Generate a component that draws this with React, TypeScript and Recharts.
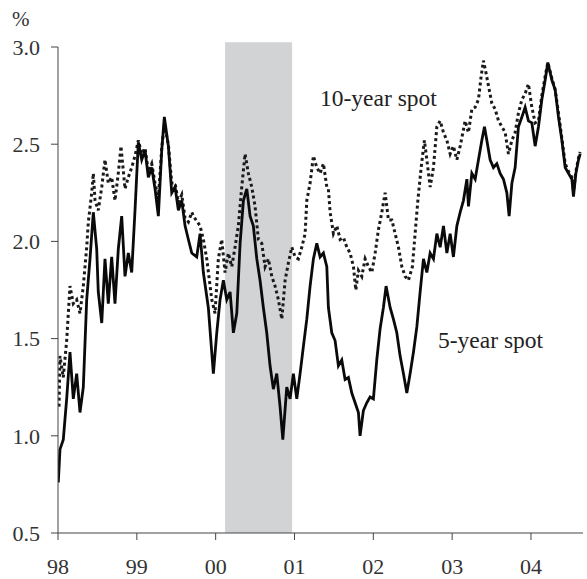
import React from "react";
import { LineChart, Line, XAxis, YAxis, ReferenceArea } from "recharts";

// time in years since Jan 1998
const yearLabels = ["98", "99", "00", "01", "02", "03", "04"];
const yTicks = [0.5, 1.0, 1.5, 2.0, 2.5, 3.0];

const fiveYearT = [
  0.004, 0.025, 0.067, 0.11, 0.152, 0.194, 0.237, 0.279, 0.321, 0.364, 0.406, 0.448, 0.491, 0.511,
  0.555, 0.596, 0.638, 0.681, 0.723, 0.765, 0.808, 0.85, 0.892, 0.935, 0.977, 1.019, 1.062, 1.104,
  1.146, 1.189, 1.231, 1.273, 1.316, 1.349, 1.4, 1.443, 1.485, 1.527, 1.57, 1.612, 1.654, 1.697,
  1.76, 1.802, 1.844, 1.907, 1.971, 2.014, 2.056, 2.098, 2.141, 2.183, 2.225, 2.268, 2.31, 2.352,
  2.395, 2.437, 2.478, 2.522, 2.563, 2.605, 2.648, 2.69, 2.732, 2.775, 2.817, 2.852, 2.902, 2.944,
  2.986, 3.029, 3.071, 3.113, 3.156, 3.198, 3.24, 3.283, 3.325, 3.367, 3.41, 3.43, 3.473, 3.515,
  3.557, 3.6, 3.642, 3.684, 3.727, 3.769, 3.811, 3.832, 3.874, 3.917, 3.959, 4.001, 4.044, 4.086,
  4.128, 4.162, 4.213, 4.255, 4.298, 4.34, 4.382, 4.425, 4.467, 4.509, 4.552, 4.594, 4.636, 4.679,
  4.721, 4.763, 4.806, 4.848, 4.89, 4.933, 4.975, 5.016, 5.06, 5.102, 5.143, 5.187, 5.207, 5.25,
  5.292, 5.334, 5.377, 5.41, 5.44, 5.482, 5.524, 5.567, 5.609, 5.651, 5.694, 5.723, 5.758, 5.799,
  5.841, 5.885, 5.926, 5.968, 6.011, 6.053, 6.095, 6.138, 6.18, 6.214, 6.265, 6.307, 6.349, 6.392,
  6.434, 6.476, 6.519, 6.539, 6.57, 6.603, 6.624,
];
const fiveYearSpot = [
  0.76, 0.93, 0.98, 1.19, 1.43, 1.19, 1.32, 1.12, 1.25, 1.7, 1.91, 2.15, 1.96, 1.74,
  1.58, 1.91, 1.68, 1.92, 1.68, 1.96, 2.13, 1.82, 1.94, 1.84, 2.16, 2.51, 2.42, 2.47,
  2.33, 2.38, 2.27, 2.13, 2.47, 2.64, 2.49, 2.25, 2.28, 2.16, 2.21, 2.08, 2.01, 1.94,
  1.92, 2.04, 1.84, 1.66, 1.32, 1.53, 1.7, 1.8, 1.7, 1.74, 1.53, 1.63, 1.99, 2.21,
  2.27, 2.13, 2.08, 1.91, 1.8, 1.66, 1.53, 1.36, 1.24, 1.32, 1.15, 0.98, 1.25, 1.19,
  1.32, 1.19, 1.32, 1.46, 1.6, 1.77, 1.91, 1.99, 1.92, 1.94, 1.87, 1.66, 1.53, 1.49,
  1.36, 1.39, 1.29, 1.3, 1.22, 1.17, 1.12, 1.0, 1.13, 1.17, 1.2, 1.19, 1.39, 1.55,
  1.66, 1.77, 1.66, 1.6, 1.53, 1.41, 1.32, 1.22, 1.32, 1.43, 1.56, 1.74, 1.91, 1.84,
  1.94, 1.91, 2.04, 1.97, 2.08, 1.94, 2.04, 1.92, 2.08, 2.15, 2.21, 2.32, 2.18, 2.35,
  2.32, 2.42, 2.52, 2.59, 2.52, 2.42, 2.38, 2.4, 2.35, 2.32, 2.25, 2.13, 2.3, 2.38,
  2.59, 2.64, 2.69, 2.62, 2.61, 2.49, 2.59, 2.73, 2.83, 2.92, 2.83, 2.78, 2.64, 2.52,
  2.38, 2.35, 2.32, 2.23, 2.35, 2.42, 2.45,
];

const tenYearT = [
  0.013, 0.025, 0.067, 0.11, 0.152, 0.194, 0.237, 0.279, 0.321, 0.364, 0.385, 0.428, 0.448, 0.47,
  0.511, 0.555, 0.596, 0.638, 0.681, 0.723, 0.765, 0.799, 0.85, 0.892, 0.935, 0.977, 1.019, 1.062,
  1.104, 1.146, 1.189, 1.231, 1.273, 1.316, 1.349, 1.4, 1.443, 1.485, 1.527, 1.57, 1.612, 1.654,
  1.697, 1.717, 1.802, 1.844, 1.887, 1.951, 1.992, 2.034, 2.077, 2.119, 2.161, 2.204, 2.246, 2.288,
  2.331, 2.373, 2.415, 2.458, 2.5, 2.542, 2.585, 2.627, 2.669, 2.712, 2.754, 2.796, 2.839, 2.881,
  2.923, 2.966, 3.008, 3.049, 3.093, 3.135, 3.156, 3.198, 3.24, 3.283, 3.325, 3.367, 3.41, 3.43,
  3.452, 3.494, 3.537, 3.579, 3.621, 3.664, 3.706, 3.748, 3.778, 3.811, 3.854, 3.896, 3.938, 3.981,
  4.023, 4.065, 4.108, 4.15, 4.192, 4.235, 4.277, 4.319, 4.362, 4.404, 4.446, 4.496, 4.53, 4.565,
  4.607, 4.648, 4.679, 4.721, 4.763, 4.806, 4.848, 4.89, 4.933, 4.975, 5.016, 5.06, 5.102, 5.165,
  5.207, 5.25, 5.292, 5.334, 5.368, 5.397, 5.428, 5.461, 5.504, 5.546, 5.588, 5.631, 5.673, 5.714,
  5.758, 5.799, 5.841, 5.885, 5.926, 5.968, 6.011, 6.053, 6.095, 6.138, 6.18, 6.214, 6.265, 6.307,
  6.349, 6.392, 6.434, 6.476, 6.519, 6.539, 6.57, 6.603, 6.624,
];
const tenYearSpot = [
  1.15, 1.41, 1.3, 1.49, 1.77, 1.68, 1.7, 1.63, 1.77, 1.97, 2.1, 2.25, 2.35, 2.21,
  2.16, 2.28, 2.42, 2.3, 2.33, 2.21, 2.35, 2.49, 2.27, 2.33, 2.38, 2.44, 2.52, 2.45,
  2.48, 2.36, 2.4, 2.3, 2.22, 2.48, 2.6, 2.5, 2.3, 2.3, 2.2, 2.24, 2.12, 2.1,
  2.15, 2.13, 2.08, 2.01, 1.91, 1.7, 1.63, 1.91, 2.01, 1.84, 1.94, 1.87, 1.97, 2.08,
  2.28, 2.45, 2.35, 2.28, 2.18, 2.01, 1.99, 1.87, 1.91, 1.82, 1.77, 1.7, 1.6, 1.8,
  1.89, 1.97, 1.92, 1.91, 1.97, 2.04, 2.21, 2.3, 2.44, 2.38, 2.35, 2.4, 2.28, 2.27,
  2.15, 2.04, 2.08, 2.01, 2.02, 1.97, 1.94, 1.87, 1.75, 1.85, 1.82, 1.91, 1.87, 1.84,
  1.94, 2.06, 2.15, 2.25, 2.11, 2.11, 2.04, 1.97, 1.87, 1.82, 1.8, 1.87, 2.04, 2.21,
  2.38, 2.52, 2.42, 2.28, 2.38, 2.59, 2.62, 2.56, 2.52, 2.45, 2.49, 2.42, 2.49, 2.62,
  2.56, 2.68, 2.69, 2.73, 2.85, 2.93, 2.87, 2.8, 2.71, 2.68, 2.62, 2.59, 2.56, 2.45,
  2.52, 2.56, 2.66, 2.73, 2.76, 2.81, 2.69, 2.61, 2.62, 2.75, 2.85, 2.92, 2.84, 2.78,
  2.66, 2.53, 2.4, 2.36, 2.33, 2.26, 2.36, 2.43, 2.46,
];

// shaded period (years since 1998)
const shadeStart = 2.12;
const shadeEnd = 2.97;

const fiveData = fiveYearT.map((t, i) => ({ t, v: fiveYearSpot[i] }));
const tenData = tenYearT.map((t, i) => ({ t, v: tenYearSpot[i] }));

const FONT = '"Liberation Serif", "Times New Roman", serif';
const tickStyle = { fontFamily: FONT, fontSize: 22, fill: "#333" };

export default function App() {
  return (
    <div style={{ position: "absolute", left: 0, top: 0, width: 587, height: 579, background: "#fff" }}>
      <LineChart
        width={587}
        height={579}
        margin={{ top: 47, right: 4, bottom: 0, left: 0 }}
      >
        <ReferenceArea
          x1={shadeStart}
          x2={shadeEnd}
          y1={0.5}
          y2={3.025}
          ifOverflow="visible"
          fill="#d1d3d4"
          fillOpacity={1}
          stroke="none"
        />
        <XAxis
          type="number"
          dataKey="t"
          domain={[0, 6.66]}
          ticks={[0, 1, 2, 3, 4, 5, 6]}
          tickFormatter={(v: number) => yearLabels[v]}
          allowDataOverflow
          height={46}
          tickSize={7}
          tickMargin={18}
          stroke="#444"
          tick={tickStyle}
        />
        <YAxis
          type="number"
          domain={[0.5, 3]}
          ticks={yTicks}
          tickFormatter={(v: number) => v.toFixed(1)}
          allowDataOverflow
          width={58}
          tickSize={7}
          tickMargin={11}
          stroke="#444"
          tick={tickStyle}
        />
        <Line
          data={tenData}
          dataKey="v"
          type="linear"
          stroke="#1a1a1a"
          strokeWidth={3}
          strokeDasharray="3 3"
          dot={false}
          isAnimationActive={false}
        />
        <Line
          data={fiveData}
          dataKey="v"
          type="linear"
          stroke="#0a0a0a"
          strokeWidth={2.8}
          dot={false}
          isAnimationActive={false}
        />
      </LineChart>
      <svg
        width={587}
        height={579}
        style={{ position: "absolute", left: 0, top: 0, pointerEvents: "none" }}
      >
        <text x={12} y={26} fontFamily={FONT} fontSize={21} fill="#333">%</text>
        <text x={320} y={106} fontFamily={FONT} fontSize={23.5} fill="#222">10-year spot</text>
        <text x={438} y={348} fontFamily={FONT} fontSize={23.5} fill="#222">5-year spot</text>
      </svg>
    </div>
  );
}
